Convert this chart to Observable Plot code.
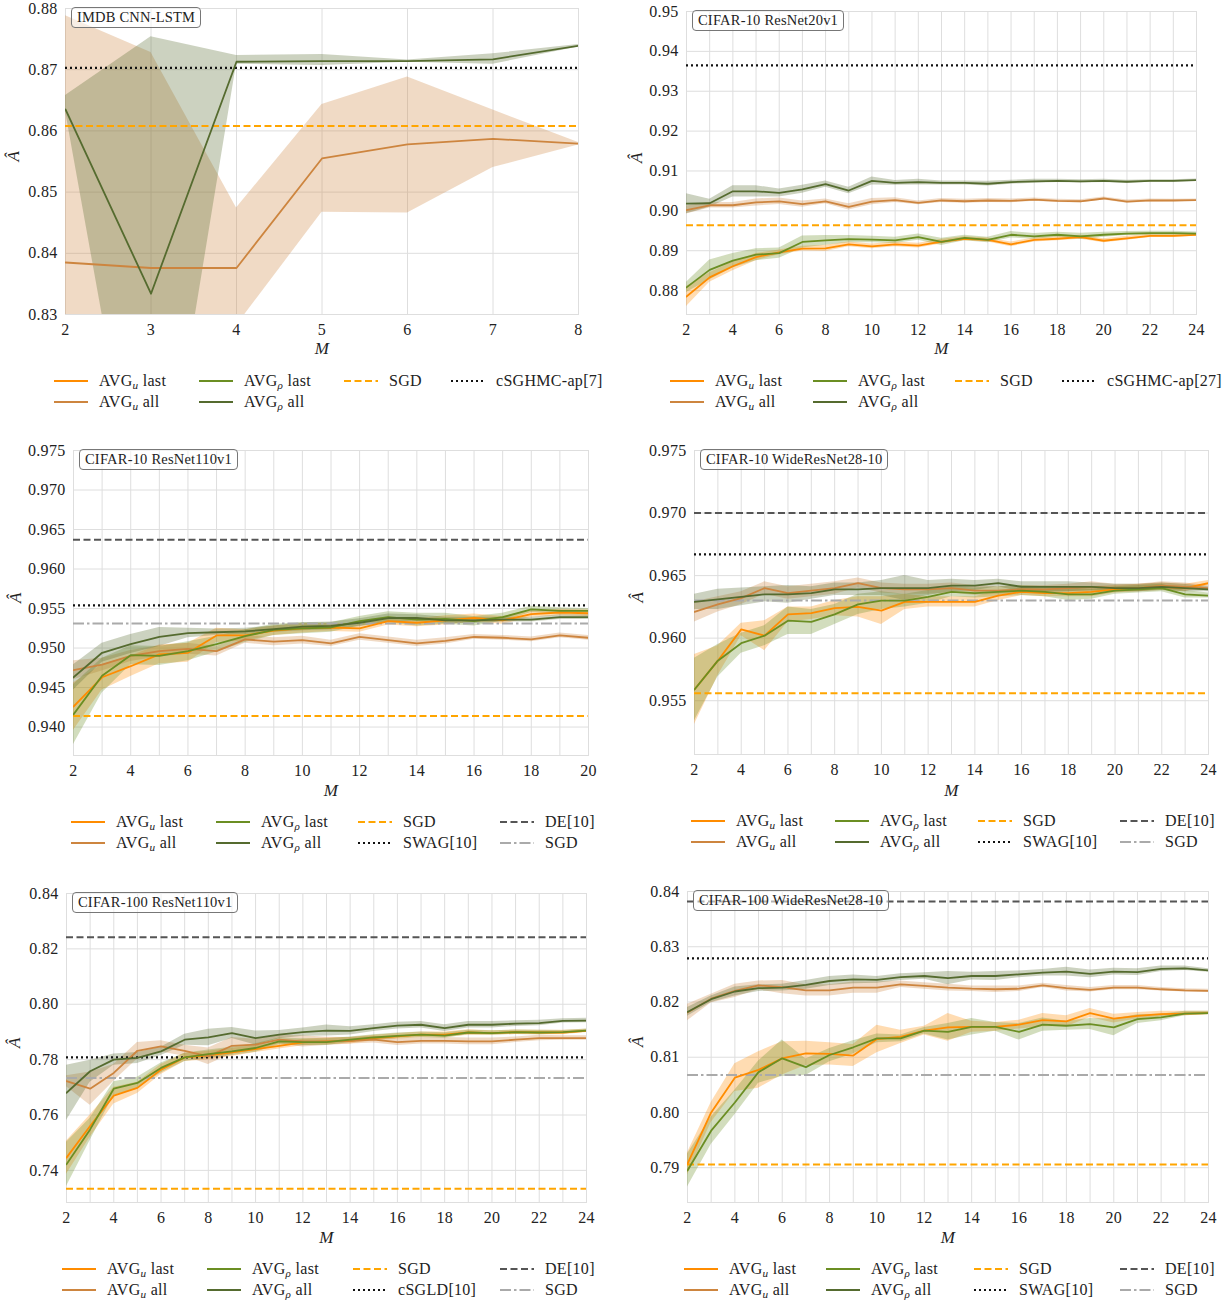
<!DOCTYPE html>
<html><head><meta charset="utf-8">
<script src="https://cdn.jsdelivr.net/npm/d3@7"></script>
<script src="https://cdn.jsdelivr.net/npm/@observablehq/plot@0.6"></script>
<style>
body{margin:0;background:#fff;font-family:"Liberation Serif",serif;color:#222;}
#root{position:relative;width:1225px;height:1306px;overflow:hidden;}
.panel{position:absolute;}
.panel > svg{display:block;}
.tag{position:absolute;border:1.2px solid #777;border-radius:4px;padding:0 5px;font-size:14.5px;line-height:19px;letter-spacing:0.2px;background:rgba(255,255,255,0.55);white-space:nowrap;color:#222;}
.item{position:absolute;display:flex;align-items:center;height:21px;font-size:16px;letter-spacing:0.3px;white-space:nowrap;color:#222;}
.item svg{margin-right:11px;flex:none;}
sub{font-size:70%;vertical-align:-3px;line-height:0;}
</style>
</head><body><div id="root"></div>
<script>
// ---------- shared ----------
const colUL = "#ff8c00", colUA = "#cd853f", colRL = "#6b8e23", colRA = "#556b2f";
const lblUL = "AVG<sub><i>u</i></sub> last", lblUA = "AVG<sub><i>u</i></sub> all";
const lblRL = "AVG<sub><i>ρ</i></sub> last", lblRA = "AVG<sub><i>ρ</i></sub> all";

// ---------- Panel 1: IMDB CNN-LSTM ----------
const imdbM = [2,3,4,5,6,7,8];
const imdbUall   = [0.8385,0.8376,0.8376,0.8555,0.8578,0.8587,0.8579];
const imdbUallLo = [0.7982,0.8024,0.8282,0.8467,0.8466,0.8540,0.8577];
const imdbUallHi = [0.8788,0.8728,0.8474,0.8643,0.8688,0.8634,0.8581];
const imdbRall   = [0.8635,0.8334,0.8713,0.8714,0.8714,0.8717,0.8739];
const imdbRallLo = [0.8632,0.7857,0.8709,0.8707,0.8712,0.8709,0.8737];
const imdbRallHi = [0.8658,0.8754,0.8723,0.8725,0.8716,0.8726,0.8741];
const imdbSGD = 0.8608, imdbCSGHMC = 0.8703;
const imdbYTicks = [0.83,0.84,0.85,0.86,0.87,0.88];

// ---------- common M ----------
const M24 = [2,3,4,5,6,7,8,9,10,11,12,13,14,15,16,17,18,19,20,21,22,23,24];
const M20 = [2,3,4,5,6,7,8,9,10,11,12,13,14,15,16,17,18,19,20];

// ---------- Panel 2: CIFAR-10 ResNet20v1 ----------
const r20uLast = [0.8785,0.8833,0.8861,0.8884,0.8896,0.8905,0.8906,0.8916,0.8911,0.8916,0.8913,0.8923,0.8930,0.8927,0.8916,0.8927,0.8930,0.8934,0.8925,0.8931,0.8937,0.8937,0.8940];
const r20uLastSd = [0.0025,0.0012,0.0011,0.0009,0.0006,0.0006,0.0008,0.0006,0.0006,0.0006,0.0006,0.0006,0.0005,0.0005,0.0006,0.0005,0.0005,0.0005,0.0005,0.0005,0.0004,0.0004,0.0003];
const r20rLast = [0.8808,0.8852,0.8875,0.8890,0.8894,0.8922,0.8926,0.8929,0.8928,0.8926,0.8934,0.8922,0.8932,0.8927,0.8940,0.8936,0.8940,0.8936,0.8940,0.8943,0.8944,0.8944,0.8943];
const r20rLastSd = [0.0013,0.0025,0.0018,0.0015,0.0013,0.0015,0.0012,0.0009,0.0008,0.0008,0.0008,0.0009,0.0007,0.0007,0.0008,0.0007,0.0006,0.0008,0.0006,0.0005,0.0005,0.0005,0.0004];
const r20uAll = [0.9002,0.9014,0.9014,0.9021,0.9024,0.9017,0.9024,0.9010,0.9023,0.9027,0.9020,0.9026,0.9024,0.9026,0.9025,0.9028,0.9025,0.9024,0.9031,0.9023,0.9026,0.9026,0.9027];
const r20uAllSd = [0.0010,0.0007,0.0007,0.0009,0.0008,0.0008,0.0006,0.0008,0.0008,0.0006,0.0005,0.0005,0.0005,0.0005,0.0005,0.0004,0.0004,0.0004,0.0004,0.0004,0.0004,0.0003,0.0003];
const r20rAll = [0.9018,0.9019,0.9049,0.9049,0.9045,0.9054,0.9067,0.9051,0.9075,0.9070,0.9072,0.9070,0.9070,0.9068,0.9072,0.9074,0.9075,0.9074,0.9075,0.9073,0.9075,0.9075,0.9077];
const r20rAllSd = [0.0025,0.0010,0.0014,0.0014,0.0010,0.0010,0.0008,0.0008,0.0010,0.0006,0.0007,0.0005,0.0005,0.0006,0.0005,0.0005,0.0004,0.0004,0.0004,0.0004,0.0003,0.0003,0.0003];
const r20SGD = 0.8964, r20CSGHMC = 0.9365;
const r20YTicks = [0.88,0.89,0.90,0.91,0.92,0.93,0.94,0.95];

// ---------- Panel 3: CIFAR-10 ResNet110v1 ----------
const r110uLast = [0.9426,0.9463,0.9477,0.9492,0.9494,0.9516,0.9516,0.9522,0.9525,0.9526,0.9525,0.9534,0.9532,0.9535,0.9538,0.9535,0.9543,0.9545,0.9544];
const r110uLastSd = [0.0030,0.0016,0.0013,0.0012,0.0012,0.0009,0.0007,0.0006,0.0006,0.0005,0.0005,0.0005,0.0005,0.0006,0.0005,0.0005,0.0004,0.0004,0.0004];
const r110rLast = [0.9416,0.9465,0.9491,0.9490,0.9496,0.9505,0.9515,0.9523,0.9525,0.9526,0.9534,0.9539,0.9536,0.9537,0.9534,0.9539,0.9549,0.9547,0.9547];
const r110rLastSd = [0.0038,0.0022,0.0012,0.0012,0.0012,0.0010,0.0008,0.0007,0.0007,0.0006,0.0006,0.0007,0.0008,0.0007,0.0006,0.0005,0.0004,0.0004,0.0003];
const r110uAll = [0.9472,0.9479,0.9490,0.9496,0.9499,0.9496,0.9511,0.9508,0.9510,0.9506,0.9514,0.9510,0.9506,0.9509,0.9514,0.9513,0.9511,0.9516,0.9513];
const r110uAllSd = [0.0012,0.0008,0.0007,0.0007,0.0007,0.0006,0.0005,0.0005,0.0005,0.0004,0.0004,0.0004,0.0004,0.0004,0.0003,0.0003,0.0003,0.0003,0.0003];
const r110rAll = [0.9463,0.9494,0.9505,0.9514,0.9519,0.9520,0.9521,0.9524,0.9527,0.9528,0.9532,0.9538,0.9538,0.9535,0.9535,0.9536,0.9536,0.9539,0.9539];
const r110rAllSd = [0.0016,0.0012,0.0012,0.0012,0.0006,0.0004,0.0004,0.0004,0.0005,0.0005,0.0005,0.0005,0.0004,0.0004,0.0004,0.0003,0.0003,0.0003,0.0003];
const r110DE = 0.9637, r110SWAG = 0.9554, r110SGDdd = 0.9531, r110SGD = 0.9414;
const r110YTicks = [0.940,0.945,0.950,0.955,0.960,0.965,0.970,0.975];

// ---------- Panel 4: CIFAR-10 WideResNet28-10 ----------
const wrnuLast = [0.9559,0.9582,0.9607,0.9602,0.9619,0.9620,0.9624,0.9625,0.9622,0.9629,0.9629,0.9629,0.9629,0.9634,0.9637,0.9636,0.9636,0.9637,0.9639,0.9640,0.9641,0.9640,0.9644];
const wrnuLastSd = [0.0028,0.0012,0.0005,0.0012,0.0006,0.0005,0.0006,0.0008,0.0011,0.0006,0.0004,0.0004,0.0004,0.0004,0.0003,0.0003,0.0003,0.0004,0.0003,0.0003,0.0003,0.0003,0.0002];
const wrnrLast = [0.9559,0.9582,0.9596,0.9602,0.9614,0.9613,0.9619,0.9627,0.9630,0.9630,0.9633,0.9637,0.9636,0.9637,0.9638,0.9637,0.9635,0.9635,0.9638,0.9639,0.9640,0.9635,0.9634];
const wrnrLastSd = [0.0025,0.0013,0.0008,0.0008,0.0011,0.0010,0.0008,0.0008,0.0007,0.0005,0.0005,0.0004,0.0004,0.0004,0.0004,0.0004,0.0005,0.0004,0.0003,0.0003,0.0003,0.0003,0.0002];
const wrnuAll = [0.9621,0.9627,0.9632,0.9640,0.9636,0.9638,0.9640,0.9644,0.9640,0.9639,0.9639,0.9640,0.9638,0.9638,0.9639,0.9639,0.9640,0.9641,0.9640,0.9640,0.9642,0.9641,0.9640];
const wrnuAllSd = [0.0008,0.0006,0.0005,0.0005,0.0005,0.0005,0.0005,0.0004,0.0004,0.0004,0.0004,0.0004,0.0004,0.0003,0.0003,0.0003,0.0003,0.0004,0.0003,0.0003,0.0003,0.0003,0.0002];
const wrnrAll = [0.9629,0.9631,0.9633,0.9635,0.9635,0.9636,0.9639,0.9639,0.9640,0.9640,0.9640,0.9642,0.9642,0.9644,0.9641,0.9641,0.9641,0.9641,0.9640,0.9640,0.9641,0.9640,0.9639];
const wrnrAllSd = [0.0006,0.0008,0.0007,0.0006,0.0007,0.0005,0.0005,0.0005,0.0006,0.0010,0.0006,0.0005,0.0004,0.0003,0.0004,0.0004,0.0004,0.0003,0.0003,0.0003,0.0003,0.0003,0.0002];
const wrnDE = 0.9700, wrnSWAG = 0.9667, wrnSGDdd = 0.9630, wrnSGD = 0.9556;
const wrnYTicks = [0.955,0.960,0.965,0.970,0.975];

// ---------- Panel 5: CIFAR-100 ResNet110v1 ----------
const c100uLast = [0.7446,0.7560,0.7670,0.7698,0.7764,0.7808,0.7815,0.7826,0.7838,0.7850,0.7862,0.7866,0.7868,0.7878,0.7884,0.7890,0.7890,0.7898,0.7896,0.7899,0.7898,0.7898,0.7904];
const c100uLastSd = [0.006,0.004,0.003,0.002,0.0018,0.0015,0.0015,0.0015,0.0012,0.0012,0.0012,0.0012,0.0012,0.001,0.001,0.001,0.001,0.001,0.0008,0.0008,0.0008,0.0008,0.0006];
const c100rLast = [0.7422,0.7548,0.7695,0.7716,0.7770,0.7808,0.7820,0.7830,0.7842,0.7866,0.7863,0.7863,0.7872,0.7880,0.7886,0.7890,0.7887,0.7898,0.7896,0.7899,0.7898,0.7899,0.7905];
const c100rLastSd = [0.008,0.004,0.0025,0.002,0.0018,0.0015,0.0015,0.0015,0.0015,0.0012,0.0012,0.0012,0.001,0.001,0.001,0.001,0.001,0.0008,0.0008,0.0008,0.0008,0.0006,0.0006];
const c100uAll = [0.7722,0.7695,0.7752,0.7832,0.7848,0.7832,0.7812,0.7850,0.7854,0.7872,0.7866,0.7866,0.7868,0.7872,0.7863,0.7868,0.7868,0.7866,0.7866,0.7872,0.7878,0.7878,0.7878];
const c100uAllSd = [0.002,0.006,0.003,0.003,0.002,0.002,0.003,0.003,0.002,0.0015,0.002,0.0015,0.0012,0.0012,0.0012,0.0012,0.0012,0.0012,0.0012,0.001,0.001,0.0008,0.0008];
const c100rAll = [0.7680,0.7758,0.7800,0.7806,0.7830,0.7872,0.7880,0.7896,0.7878,0.7890,0.7899,0.7905,0.7904,0.7914,0.7923,0.7926,0.7914,0.7926,0.7926,0.7930,0.7932,0.7940,0.7941];
const c100rAllSd = [0.010,0.004,0.002,0.002,0.0015,0.002,0.003,0.002,0.0025,0.0015,0.0015,0.002,0.0015,0.0012,0.0012,0.0012,0.0012,0.0012,0.0012,0.001,0.001,0.0008,0.0008];
const c100DE = 0.8242, c100CSGLD = 0.7808, c100SGDdd = 0.7734, c100SGD = 0.7334;
const c100YTicks = [0.74,0.76,0.78,0.80,0.82,0.84];

// ---------- Panel 6: CIFAR-100 WideResNet28-10 ----------
const cwuLast = [0.7907,0.8000,0.8063,0.8077,0.8098,0.8107,0.8106,0.8103,0.8133,0.8137,0.8148,0.8154,0.8155,0.8155,0.8159,0.8167,0.8165,0.8180,0.8170,0.8175,0.8178,0.8179,0.8180];
const cwuLastSd = [0.002,0.0018,0.0025,0.0033,0.003,0.0022,0.002,0.002,0.0025,0.0012,0.0008,0.0025,0.001,0.0008,0.0008,0.0012,0.001,0.0008,0.0008,0.0006,0.0005,0.0004,0.0003];
const cwrLast = [0.7895,0.7967,0.8018,0.8073,0.8098,0.8082,0.8104,0.8118,0.8134,0.8134,0.8148,0.8146,0.8155,0.8155,0.8146,0.8159,0.8157,0.8160,0.8154,0.8169,0.8172,0.8179,0.8180];
const cwrLastSd = [0.003,0.0025,0.0022,0.002,0.0033,0.0015,0.0012,0.0012,0.0008,0.0006,0.0006,0.0015,0.0015,0.0008,0.0015,0.0012,0.0008,0.001,0.0015,0.0008,0.0006,0.0004,0.0003];
const cwuAll = [0.8181,0.8206,0.8220,0.8230,0.8227,0.8221,0.8221,0.8226,0.8226,0.8232,0.8229,0.8226,0.8224,0.8223,0.8224,0.8230,0.8225,0.8222,0.8226,0.8226,0.8223,0.8221,0.8220];
const cwuAllSd = [0.0015,0.0008,0.0012,0.0008,0.0012,0.001,0.001,0.001,0.001,0.0006,0.0006,0.0006,0.0005,0.0006,0.0005,0.0004,0.0005,0.0004,0.0004,0.0004,0.0003,0.0003,0.0003];
const cwrAll = [0.8182,0.8205,0.8219,0.8225,0.8226,0.8231,0.8238,0.8241,0.8240,0.8245,0.8247,0.8243,0.8247,0.8247,0.8250,0.8253,0.8255,0.8251,0.8255,0.8254,0.8260,0.8261,0.8257];
const cwrAllSd = [0.0008,0.0006,0.0008,0.0006,0.0006,0.0008,0.0008,0.0008,0.0006,0.0006,0.0006,0.0012,0.0007,0.0008,0.0006,0.0006,0.0008,0.0007,0.0006,0.0006,0.0005,0.0004,0.0003];
const cwDE = 0.8382, cwSWAG = 0.8279, cwSGDdd = 0.8068, cwSGD = 0.7906;
const cwYTicks = [0.79,0.80,0.81,0.82,0.83,0.84];

const xTicksEven24 = [2,4,6,8,10,12,14,16,18,20,22,24];
const xTicksEven20 = [2,4,6,8,10,12,14,16,18,20];

// ---------- helpers ----------
const DASH = "7,3.5", DOT = "2,3", DASHDOT = "11,3,2.5,3";
function sym(M, mean, sd, color) {
  return {color, data: M.map((m, i) => ({M: m, mean: mean[i], lo: mean[i] - sd[i], hi: mean[i] + sd[i]}))};
}
function asym(M, mean, lo, hi, color) {
  return {color, data: M.map((m, i) => ({M: m, mean: mean[i], lo: lo[i], hi: hi[i]}))};
}

const root = document.getElementById("root");

function makePanel(c) {
  const div = document.createElement("div");
  div.className = "panel";
  div.style.left = c.left + "px"; div.style.top = c.top + "px"; div.style.width = c.width + "px";
  const marks = [
    Plot.gridX(c.gridX, {stroke: "#dedede", strokeOpacity: 1, strokeWidth: 1}),
    Plot.gridY(c.yTicks, {stroke: "#dedede", strokeOpacity: 1, strokeWidth: 1}),
    Plot.frame({stroke: "#dedede", strokeWidth: 1})
  ];
  for (const s of c.series) marks.push(Plot.areaY(s.data, {x: "M", y1: "lo", y2: "hi", fill: s.color, fillOpacity: 0.3, clip: true}));
  for (const r of c.refs) marks.push(Plot.ruleY([r.v], {stroke: r.color, strokeWidth: r.dash === DOT ? 2.3 : 2, strokeDasharray: r.dash}));
  for (const s of c.series) marks.push(Plot.lineY(s.data, {x: "M", y: "mean", stroke: s.color, strokeWidth: 1.8, clip: true}));
  marks.push(Plot.axisX(c.xTicks, {tickSize: 0, tickPadding: 9, label: null, fontSize: 16}));
  marks.push(Plot.axisY(c.yTicks, {tickSize: 0, tickPadding: 8, label: null, fontSize: 16, tickFormat: d3.format(c.yfmt)}));
  marks.push(Plot.text(["M"], {frameAnchor: "bottom", dy: c.xLabelDy, text: d => d, fontStyle: "italic", fontSize: 17}));
  marks.push(Plot.text(["Â"], {frameAnchor: "left", dx: c.yLabelDx, rotate: -90, text: d => d, fontStyle: "italic", fontSize: 17}));
  const chart = Plot.plot({
    width: c.width, height: c.height,
    marginLeft: c.ml, marginRight: c.mr, marginTop: c.mt, marginBottom: c.height - c.plotBottom,
    x: {domain: [2, c.xmax]},
    y: {domain: c.yDomain},
    style: {fontFamily: "'Liberation Serif', serif", fontSize: "16px", letterSpacing: "0.3px", color: "#222", background: "transparent"},
    marks
  });
  div.appendChild(chart);
  // tag box
  const tag = document.createElement("div");
  tag.className = "tag";
  tag.textContent = c.tag;
  tag.style.left = (c.ml + 6) + "px";
  tag.style.top = (c.mt - 1) + "px";
  div.appendChild(tag);
  // legend
  for (const it of c.legend) {
    const d = document.createElement("div");
    d.className = "item";
    d.style.left = c.legCols[it.col] + "px";
    d.style.top = (c.plotBottom + 56 + it.row * 21.5) + "px";
    d.innerHTML = `<svg width="34" height="10"><line x1="0" x2="34" y1="5" y2="5" stroke="${it.color}" stroke-width="2" ${it.dash ? `stroke-dasharray="${it.dash}"` : ""}/></svg><span>${it.label}</span>`;
    div.appendChild(d);
  }
  root.appendChild(div);
}

function stdLegend(extra) {
  return [
    {col: 0, row: 0, color: colUL, label: lblUL},
    {col: 0, row: 1, color: colUA, label: lblUA},
    {col: 1, row: 0, color: colRL, label: lblRL},
    {col: 1, row: 1, color: colRA, label: lblRA},
    ...extra
  ];
}

// Panel 1
makePanel({
  left: 0, top: 0, width: 612, height: 362, ml: 65, mr: 34, mt: 8, plotBottom: 314,
  xmax: 8, xTicks: imdbM, gridX: imdbM, yTicks: imdbYTicks, yDomain: [0.83, 0.88], yfmt: ".2f",
  xLabelDy: 39, yLabelDx: -52, tag: "IMDB CNN-LSTM",
  series: [asym(imdbM, imdbUall, imdbUallLo, imdbUallHi, colUA), asym(imdbM, imdbRall, imdbRallLo, imdbRallHi, colRA)],
  refs: [{v: imdbSGD, color: "#ffa500", dash: DASH}, {v: imdbCSGHMC, color: "#111", dash: DOT}],
  legCols: [54, 199, 344, 451],
  legend: stdLegend([{col: 2, row: 0, color: "#ffa500", dash: DASH, label: "SGD"}, {col: 3, row: 0, color: "#111", dash: DOT, label: "cSGHMC-ap[7]"}])
});

// Panel 2
makePanel({
  left: 612, top: 0, width: 613, height: 362, ml: 74, mr: 29, mt: 11, plotBottom: 314,
  xmax: 24, xTicks: xTicksEven24, gridX: M24, yTicks: r20YTicks, yDomain: [0.874, 0.95], yfmt: ".2f",
  xLabelDy: 39, yLabelDx: -50, tag: "CIFAR-10 ResNet20v1",
  series: [sym(M24, r20uLast, r20uLastSd, colUL), sym(M24, r20uAll, r20uAllSd, colUA), sym(M24, r20rLast, r20rLastSd, colRL), sym(M24, r20rAll, r20rAllSd, colRA)],
  refs: [{v: r20SGD, color: "#ffa500", dash: DASH}, {v: r20CSGHMC, color: "#111", dash: DOT}],
  legCols: [58, 201, 343, 450],
  legend: stdLegend([{col: 2, row: 0, color: "#ffa500", dash: DASH, label: "SGD"}, {col: 3, row: 0, color: "#111", dash: DOT, label: "cSGHMC-ap[27]"}])
});

// Panel 3
makePanel({
  left: 0, top: 440, width: 612, height: 362, ml: 73, mr: 24, mt: 10, plotBottom: 315,
  xmax: 20, xTicks: xTicksEven20, gridX: M20, yTicks: r110YTicks, yDomain: [0.9364, 0.975], yfmt: ".3f",
  xLabelDy: 40, yLabelDx: -58, tag: "CIFAR-10 ResNet110v1",
  series: [sym(M20, r110uLast, r110uLastSd, colUL), sym(M20, r110uAll, r110uAllSd, colUA), sym(M20, r110rLast, r110rLastSd, colRL), sym(M20, r110rAll, r110rAllSd, colRA)],
  refs: [{v: r110SGD, color: "#ffa500", dash: DASH}, {v: r110SWAG, color: "#111", dash: DOT}, {v: r110DE, color: "#555", dash: DASH}, {v: r110SGDdd, color: "#aaa", dash: DASHDOT}],
  legCols: [71, 216, 358, 500],
  legend: stdLegend([{col: 2, row: 0, color: "#ffa500", dash: DASH, label: "SGD"}, {col: 2, row: 1, color: "#111", dash: DOT, label: "SWAG[10]"}, {col: 3, row: 0, color: "#555", dash: DASH, label: "DE[10]"}, {col: 3, row: 1, color: "#aaa", dash: DASHDOT, label: "SGD"}])
});

// Panel 4
makePanel({
  left: 612, top: 440, width: 613, height: 362, ml: 82, mr: 17, mt: 10, plotBottom: 314,
  xmax: 24, xTicks: xTicksEven24, gridX: M24, yTicks: wrnYTicks, yDomain: [0.9507, 0.975], yfmt: ".3f",
  xLabelDy: 41, yLabelDx: -57, tag: "CIFAR-10 WideResNet28-10",
  series: [sym(M24, wrnuLast, wrnuLastSd, colUL), sym(M24, wrnuAll, wrnuAllSd, colUA), sym(M24, wrnrLast, wrnrLastSd, colRL), sym(M24, wrnrAll, wrnrAllSd, colRA)],
  refs: [{v: wrnSGD, color: "#ffa500", dash: DASH}, {v: wrnSWAG, color: "#111", dash: DOT}, {v: wrnDE, color: "#555", dash: DASH}, {v: wrnSGDdd, color: "#aaa", dash: DASHDOT}],
  legCols: [79, 223, 366, 508],
  legend: stdLegend([{col: 2, row: 0, color: "#ffa500", dash: DASH, label: "SGD"}, {col: 2, row: 1, color: "#111", dash: DOT, label: "SWAG[10]"}, {col: 3, row: 0, color: "#555", dash: DASH, label: "DE[10]"}, {col: 3, row: 1, color: "#aaa", dash: DASHDOT, label: "SGD"}])
});

// Panel 5
makePanel({
  left: 0, top: 880, width: 612, height: 370, ml: 66, mr: 26, mt: 13, plotBottom: 322,
  xmax: 24, xTicks: xTicksEven24, gridX: M24, yTicks: c100YTicks, yDomain: [0.7284, 0.84], yfmt: ".2f",
  xLabelDy: 40, yLabelDx: -52, tag: "CIFAR-100 ResNet110v1",
  series: [sym(M24, c100uLast, c100uLastSd, colUL), sym(M24, c100uAll, c100uAllSd, colUA), sym(M24, c100rLast, c100rLastSd, colRL), sym(M24, c100rAll, c100rAllSd, colRA)],
  refs: [{v: c100SGD, color: "#ffa500", dash: DASH}, {v: c100CSGLD, color: "#111", dash: DOT}, {v: c100DE, color: "#555", dash: DASH}, {v: c100SGDdd, color: "#aaa", dash: DASHDOT}],
  legCols: [62, 207, 353, 500],
  legend: stdLegend([{col: 2, row: 0, color: "#ffa500", dash: DASH, label: "SGD"}, {col: 2, row: 1, color: "#111", dash: DOT, label: "cSGLD[10]"}, {col: 3, row: 0, color: "#555", dash: DASH, label: "DE[10]"}, {col: 3, row: 1, color: "#aaa", dash: DASHDOT, label: "SGD"}])
});

// Panel 6
makePanel({
  left: 612, top: 880, width: 613, height: 370, ml: 75, mr: 17, mt: 11, plotBottom: 322,
  xmax: 24, xTicks: xTicksEven24, gridX: M24, yTicks: cwYTicks, yDomain: [0.7837, 0.84], yfmt: ".2f",
  xLabelDy: 40, yLabelDx: -50, tag: "CIFAR-100 WideResNet28-10",
  series: [sym(M24, cwuLast, cwuLastSd, colUL), sym(M24, cwuAll, cwuAllSd, colUA), sym(M24, cwrLast, cwrLastSd, colRL), sym(M24, cwrAll, cwrAllSd, colRA)],
  refs: [{v: cwSGD, color: "#ffa500", dash: DASH}, {v: cwSWAG, color: "#111", dash: DOT}, {v: cwDE, color: "#555", dash: DASH}, {v: cwSGDdd, color: "#aaa", dash: DASHDOT}],
  legCols: [72, 214, 362, 508],
  legend: stdLegend([{col: 2, row: 0, color: "#ffa500", dash: DASH, label: "SGD"}, {col: 2, row: 1, color: "#111", dash: DOT, label: "SWAG[10]"}, {col: 3, row: 0, color: "#555", dash: DASH, label: "DE[10]"}, {col: 3, row: 1, color: "#aaa", dash: DASHDOT, label: "SGD"}])
});
</script>
</body></html>
